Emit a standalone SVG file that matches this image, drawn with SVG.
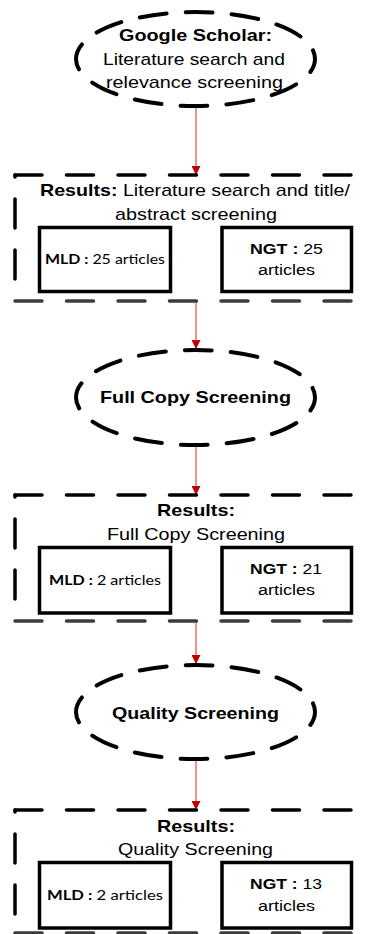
<svg xmlns="http://www.w3.org/2000/svg" width="371" height="934" viewBox="0 0 371 934">
  <defs>
    <marker id="arrowhead" viewBox="0 0 10 10" refX="10" refY="5" markerWidth="9" markerHeight="9" markerUnits="userSpaceOnUse" orient="auto">
      <path d="M0,0 L10,5 L0,10 Z" fill="#c00000"/>
    </marker>
  </defs>
  <style>
    .step { fill: #ffffff; stroke: #000000; stroke-width: 4; stroke-dasharray: 27 19; stroke-dashoffset: 13; stroke-linecap: round; }
    .frame-h { fill: none; stroke: #000000; stroke-width: 3.5; stroke-dasharray: 27 24.5; stroke-linecap: round; }
    .frame-b { fill: none; stroke: #3c3c3c; stroke-width: 3.5; stroke-dasharray: 27 24.5; stroke-linecap: round; }
    .frame-v { fill: none; stroke: #000000; stroke-width: 3.5; stroke-dasharray: 29 22; stroke-dashoffset: 27; stroke-linecap: round; }
    .box { fill: #ffffff; stroke: #000000; stroke-width: 3.5; }
    .arial { font-family: "Liberation Sans", Arial, sans-serif; font-size: 17px; fill: #000000; }
    .small { font-size: 15.5px; }
    .cal { font-family: Lato, "Open Sans", sans-serif; font-size: 13.5px; fill: #000000; }
    .b { font-weight: bold; }
    .link { stroke: #e07878; stroke-width: 1.6; fill: none; marker-end: url(#arrowhead); }
  </style>

  <!-- connectors -->
  <g id="connectors">
    <line class="link" x1="196" y1="107" x2="196" y2="175"/>
    <line class="link" x1="196" y1="301" x2="196" y2="349"/>
    <line class="link" x1="196" y1="446" x2="196" y2="495"/>
    <line class="link" x1="196" y1="621" x2="196" y2="664"/>
    <line class="link" x1="196" y1="760" x2="196" y2="810"/>
  </g>

  <!-- step 1: search -->
  <g id="search">
    <ellipse class="step" cx="195.5" cy="59" rx="119.5" ry="47"/>
    <text class="arial b" x="195.5" y="41" text-anchor="middle" textLength="153" lengthAdjust="spacingAndGlyphs">Google Scholar:</text>
    <text class="arial" x="194" y="64.5" text-anchor="middle" textLength="182" lengthAdjust="spacingAndGlyphs">Literature search and</text>
    <text class="arial" x="194.5" y="87.5" text-anchor="middle" textLength="177" lengthAdjust="spacingAndGlyphs">relevance screening</text>
  </g>

  <!-- results 1 -->
  <g id="results-1">
    <path class="frame-h" d="M15,175 H351"/>
    <path class="frame-v" d="M15,175 V301"/>
    <path class="frame-b" d="M15,301 H351"/>
    <text class="arial" x="40" y="196" textLength="310" lengthAdjust="spacingAndGlyphs"><tspan class="b">Results:</tspan> Literature search and title/</text>
    <text class="arial" x="196" y="220" text-anchor="middle" textLength="162" lengthAdjust="spacingAndGlyphs">abstract screening</text>
  </g>
  <g id="mld-1">
    <rect class="box" x="39.5" y="227.5" width="131" height="64"/>
    <text class="cal" x="45" y="264" textLength="120" lengthAdjust="spacingAndGlyphs"><tspan class="b">MLD :</tspan> 25 articles</text>
  </g>
  <g id="ngt-1">
    <rect class="box" x="222" y="227.5" width="129.5" height="64"/>
    <text class="arial small" x="250" y="254" textLength="73" lengthAdjust="spacingAndGlyphs"><tspan class="b">NGT :</tspan> 25</text>
    <text class="arial small" x="286.5" y="275" text-anchor="middle" textLength="57" lengthAdjust="spacingAndGlyphs">articles</text>
  </g>

  <!-- step 2: full copy -->
  <g id="full-copy">
    <ellipse class="step" cx="195.5" cy="397.5" rx="119.5" ry="47.5"/>
    <text class="arial b" x="195.5" y="403" text-anchor="middle" textLength="191" lengthAdjust="spacingAndGlyphs">Full Copy Screening</text>
  </g>

  <!-- results 2 -->
  <g id="results-2">
    <path class="frame-h" d="M15,495 H351"/>
    <path class="frame-v" d="M15,495 V621"/>
    <path class="frame-b" d="M15,621 H351"/>
    <text class="arial b" x="196" y="516" text-anchor="middle" textLength="78" lengthAdjust="spacingAndGlyphs">Results:</text>
    <text class="arial" x="196" y="540" text-anchor="middle" textLength="178" lengthAdjust="spacingAndGlyphs">Full Copy Screening</text>
  </g>
  <g id="mld-2">
    <rect class="box" x="39.5" y="547.5" width="131" height="65.5"/>
    <text class="cal" x="49" y="585" textLength="112" lengthAdjust="spacingAndGlyphs"><tspan class="b">MLD :</tspan> 2 articles</text>
  </g>
  <g id="ngt-2">
    <rect class="box" x="222" y="547.5" width="129.5" height="65.5"/>
    <text class="arial small" x="250" y="574" textLength="72" lengthAdjust="spacingAndGlyphs"><tspan class="b">NGT :</tspan> 21</text>
    <text class="arial small" x="286.5" y="595" text-anchor="middle" textLength="57" lengthAdjust="spacingAndGlyphs">articles</text>
  </g>

  <!-- step 3: quality -->
  <g id="quality">
    <ellipse class="step" cx="195.5" cy="712" rx="119.5" ry="47"/>
    <text class="arial b" x="195.5" y="719" text-anchor="middle" textLength="167" lengthAdjust="spacingAndGlyphs">Quality Screening</text>
  </g>

  <!-- results 3 -->
  <g id="results-3">
    <path class="frame-h" d="M15,810 H351"/>
    <path class="frame-v" d="M15,810 V933"/>
    <path class="frame-b" d="M15,933 H351"/>
    <text class="arial b" x="196" y="832" text-anchor="middle" textLength="78" lengthAdjust="spacingAndGlyphs">Results:</text>
    <text class="arial" x="195.5" y="855" text-anchor="middle" textLength="155" lengthAdjust="spacingAndGlyphs">Quality Screening</text>
  </g>
  <g id="mld-3">
    <rect class="box" x="39.5" y="862.5" width="131" height="65.5"/>
    <text class="cal" x="47" y="900" textLength="116" lengthAdjust="spacingAndGlyphs"><tspan class="b">MLD :</tspan> 2  articles</text>
  </g>
  <g id="ngt-3">
    <rect class="box" x="222" y="862.5" width="129.5" height="65.5"/>
    <text class="arial small" x="250" y="889" textLength="72" lengthAdjust="spacingAndGlyphs"><tspan class="b">NGT :</tspan> 13</text>
    <text class="arial small" x="286.5" y="911" text-anchor="middle" textLength="57" lengthAdjust="spacingAndGlyphs">articles</text>
  </g>
</svg>
